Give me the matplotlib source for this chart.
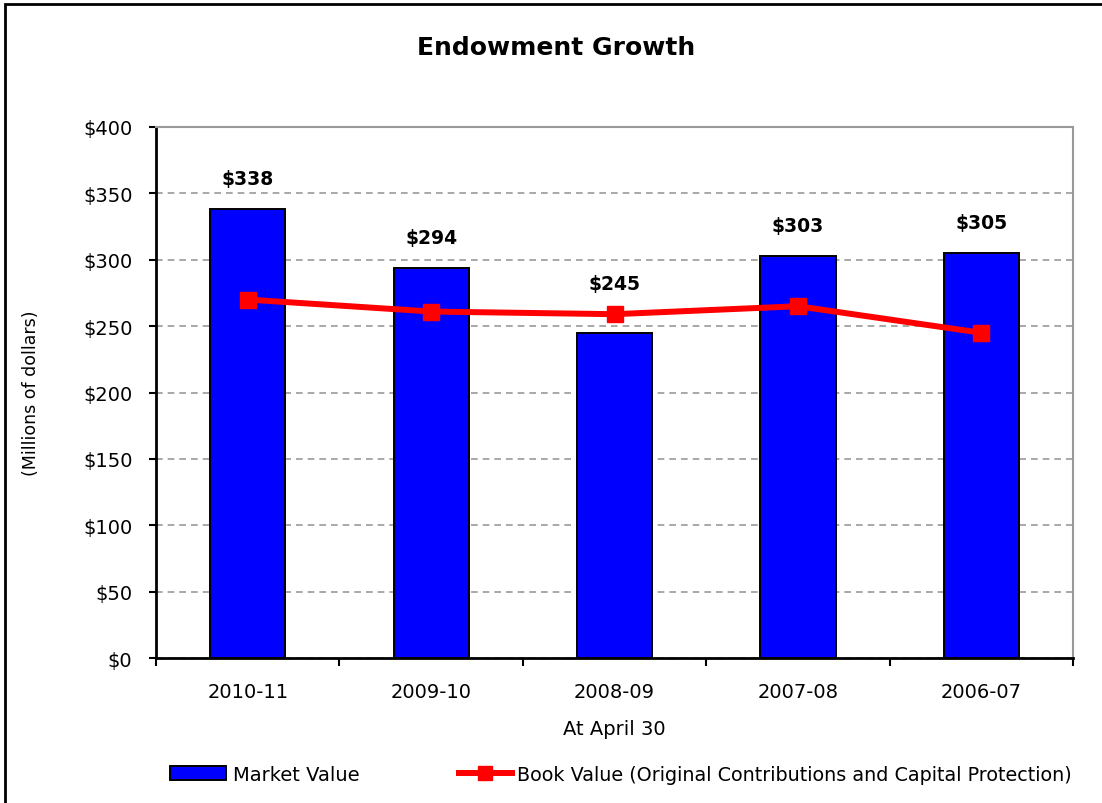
import matplotlib.pyplot as plt
from matplotlib.patches import Rectangle
import numpy as np

plt.rcParams['font.family'] = ['DejaVu Sans']

# Fiscal years, newest first
years = ["2010-11", "2009-10", "2008-09", "2007-08", "2006-07"]
# Market value of endowment, $ millions
market_value = [338, 294, 245, 303, 305]
# Book value (original contributions and capital protection), $ millions
book_value = [270, 261, 259, 265, 245]

fig = plt.figure(figsize=(11.02, 8.04), dpi=100)
ax = fig.add_axes([0.1416, 0.1803, 0.8321, 0.6605])

x = np.arange(len(years))
bars = ax.bar(x, market_value, width=0.41, color="#0000ff", edgecolor="black",
              linewidth=1.4, zorder=3)
line, = ax.plot(x, book_value, color="#ff0000", lw=4.3, marker="s", markersize=12,
                zorder=4)

# value labels sit above whichever mark is higher
for xi, mv, bv in zip(x, market_value, book_value):
    ax.annotate(f"${mv}", (xi, max(mv, bv)), xytext=(0, 22), textcoords="offset points",
                ha="center", va="center", fontsize=13.5, fontweight="bold")

ax.set_xlim(-0.5, len(years) - 0.5)
ax.set_ylim(0, 400)
ax.set_yticks(range(0, 401, 50))
ax.set_yticklabels([f"${v}" for v in range(0, 401, 50)], fontsize=14)
ax.set_xticks(x)
ax.set_xticklabels(years, fontsize=14)
ax.tick_params(axis="x", length=0, pad=17)
ax.set_xticks(np.arange(-0.5, len(years)), minor=True)
ax.tick_params(axis="x", which="minor", length=6, width=1.5, direction="out")
ax.tick_params(axis="y", length=5, width=1.5, direction="out", pad=12)

ax.yaxis.grid(True, linestyle=(0, (4, 3)), color="#999999", lw=1.2, zorder=0)
ax.set_axisbelow(True)

for side in ("left", "bottom"):
    ax.spines[side].set_color("black")
    ax.spines[side].set_linewidth(2)
for side in ("top", "right"):
    ax.spines[side].set_color("#999999")
    ax.spines[side].set_linewidth(1.5)

ax.set_ylabel("(Millions of dollars)", fontsize=12.5, labelpad=31)
ax.set_xlabel("At April 30", fontsize=14, labelpad=13)
fig.text(0.505, 0.94, "Endowment Growth", ha="center", va="center",
         fontsize=18, fontweight="bold")

# two legend entries placed separately along the bottom
fig.legend([bars], ["Market Value"], loc="center left",
           bbox_to_anchor=(170 / 1102, 0.036), frameon=False, fontsize=14,
           handlelength=2.9, handletextpad=0.35, borderpad=0, borderaxespad=0)
fig.legend([line], ["Book Value (Original Contributions and Capital Protection)"],
           loc="center left", bbox_to_anchor=(459 / 1102, 0.036), frameon=False,
           fontsize=13.8, handlelength=2.75, handletextpad=0.3, borderpad=0,
           borderaxespad=0, markerscale=0.85)

# outer chart frame
fig.patches.append(Rectangle((5 / 1102, -0.1), 1.2, 1.1 - 5 / 804,
                             transform=fig.transFigure, fill=False,
                             edgecolor="black", lw=2))

fig.savefig("out.png", dpi=100)
